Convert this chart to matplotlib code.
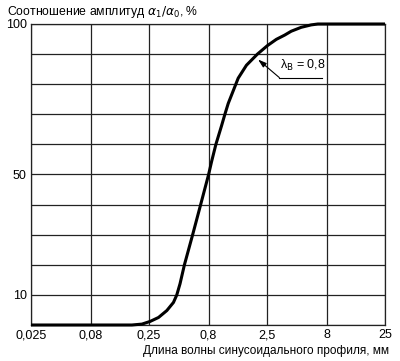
import matplotlib
matplotlib.use("Agg")
import matplotlib.pyplot as plt
from matplotlib.ticker import FixedLocator, NullLocator

plt.rcParams['font.family'] = ['Liberation Sans', 'DejaVu Sans']

wavelength = [0.025, 0.08, 0.179, 0.218, 0.256, 0.301, 0.354, 0.403, 0.430, 0.458,
              0.499, 0.586, 0.685, 0.8, 0.848, 0.922, 1.03, 1.099, 1.173, 1.293,
              1.425, 1.674, 2.074, 2.517, 2.999, 3.524, 4.012, 4.874, 5.918, 6.742,
              8, 25]
ratio = [0, 0, 0, 0.3, 1.2, 2.5, 4.8, 7.5, 10, 13.7,
         20, 30, 40, 50, 54.3, 60, 66.2, 70.0, 73.6, 77.8,
         82.0, 86.3, 90, 92.8, 94.9, 96.3, 97.6, 98.9, 99.7, 100,
         100, 100]

x_ticks = [0.025, 0.08, 0.25, 0.8, 2.5, 8, 25]
x_tick_labels = ["0,025", "0,08", "0,25", "0,8", "2,5", "8", "25"]
y_grid = [0, 10, 20, 30, 40, 50, 60, 70, 80, 90, 100]
y_tick_labels = {10: "10", 50: "50", 100: "100"}

fig = plt.figure(figsize=(4.0, 3.61), dpi=100)
ax = fig.add_axes([31/400, 1-325/361, (385-31)/400, (325-24)/361])

ax.set_xscale("log")
ax.set_xlim(0.025, 25)
ax.set_ylim(0, 100)

for xv in x_ticks:
    ax.axvline(xv, color="#222222", lw=0.9, zorder=1)
for yv in y_grid:
    ax.axhline(yv, color="#222222", lw=0.9, zorder=1)

ax.plot(wavelength, ratio, color="black", lw=2.2, solid_joinstyle="round",
        solid_capstyle="butt", zorder=3, clip_on=False)

ax.xaxis.set_major_locator(FixedLocator(x_ticks))
ax.xaxis.set_minor_locator(NullLocator())
ax.set_xticklabels(x_tick_labels)
ax.set_yticks(list(y_tick_labels.keys()))
ax.set_yticklabels(list(y_tick_labels.values()))
ax.tick_params(length=0, labelsize=9, pad=3, colors="black")
for s in ax.spines.values():
    s.set_color("#222222")
    s.set_linewidth(0.9)

# annotation
ax.annotate("", xy=(2.1, 88.2), xytext=(3.18, 82.2),
            arrowprops=dict(arrowstyle="-|>,head_length=0.5,head_width=0.16",
                            color="black", lw=0.8, shrinkA=0, shrinkB=0), zorder=4)
ax.plot([3.18, 7.3], [82.2, 82.2], color="black", lw=0.8, zorder=4)
ax.text(3.2, 83.8, "λ$_\\mathrm{B}$ = 0,8", fontsize=9, ha="left", va="bottom",
        zorder=4, bbox=dict(facecolor="white", edgecolor="none", pad=0.5))

fig.text(7/400, 1-12/361, "Соотношение амплитуд $\\alpha_1/\\alpha_0$, %",
         fontsize=8.8, ha="left", va="center")
fig.text(389/400, 1-351/361, "Длина волны синусоидального профиля, мм",
         fontsize=8.5, ha="right", va="center")

fig.savefig("out.png", dpi=100)
